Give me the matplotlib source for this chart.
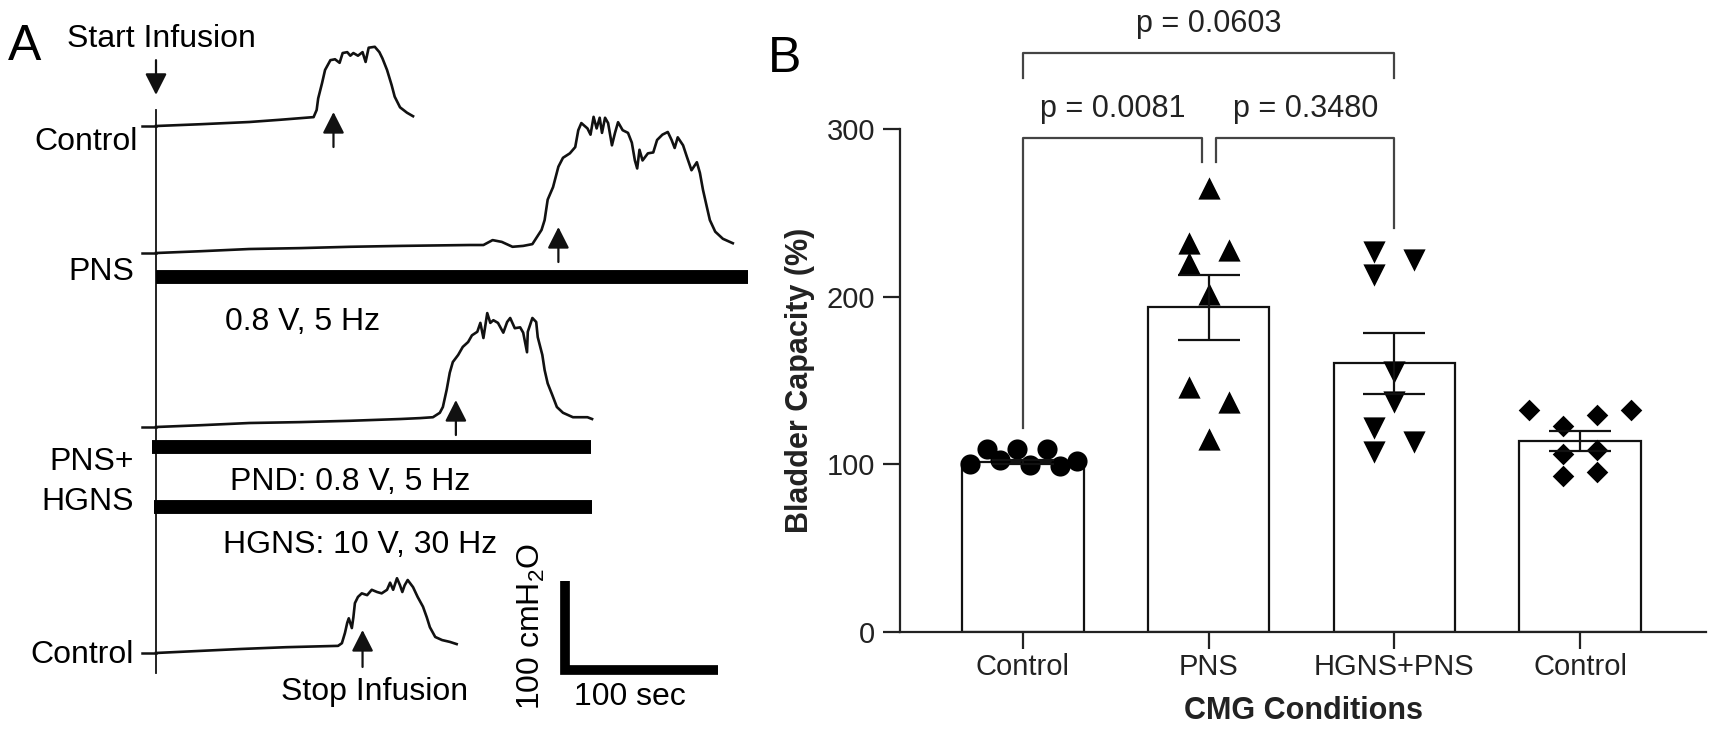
import matplotlib.pyplot as plt
import numpy as np

plt.rcParams['font.family'] = ['Liberation Sans', 'DejaVu Sans']
plt.rcParams['mathtext.fontset'] = 'custom'
plt.rcParams['mathtext.rm'] = 'Liberation Sans'

W, H = 1713, 737          # output size in pixels (dpi 100)
SEC_PX = 1.53             # panel A: pixels per second
CMH2O_PX = 0.89           # panel A: pixels per cmH2O
INK = '#111111'

# ---------------- Panel A data: CMG traces ----------------
# time (s) from start of infusion, pressure (cmH2O) above the trace baseline
ctrl1_t = [0, 29, 61, 81, 103, 105, 106, 108.5, 110.5, 114, 117, 120, 122, 125, 127, 129, 132, 135, 137, 139,
           143, 146, 148, 151, 154, 156, 159.5, 164, 168]
ctrl1_p = [0, 2, 4.5, 7, 10, 18, 31, 48, 63, 74, 75, 71, 82, 83, 79, 82, 79, 83, 72, 88,
           89, 83, 76, 63, 46, 33, 21, 15, 11]

pns_t = [0, 29, 61, 94, 127, 160, 205, 214, 220, 226, 233, 240, 246, 249, 252, 254, 256, 259.5, 263, 266,
         270.5, 274, 276, 278, 282, 284, 286, 288, 290, 291.5, 293.5, 295.5, 298, 300, 302, 305, 308.5, 311,
         313, 314.5, 316, 318, 321.5, 325, 327.5, 331, 334.5, 337, 339, 341, 344.5, 347, 350, 353.5, 355.5,
         357.5, 360, 362, 365.5, 370.5, 377]
pns_p = [0, 2, 4.5, 5.5, 7, 8, 9, 9, 14.5, 12.5, 7, 8, 10, 18, 26, 37, 60, 74, 97, 107,
         112, 119, 138, 146, 140, 133, 153, 140, 152, 135, 152, 146, 121, 135, 147, 138, 135, 124,
         104, 95, 116, 104, 112, 113, 127, 133, 136, 127, 118, 130, 121, 108, 93, 102, 90,
         71, 52, 37, 24, 16, 11]

combo_t = [0, 29, 61, 94, 127, 160, 172.5, 181, 185.5, 187.5, 190, 192, 194, 197.5, 200.5, 204, 206.5, 210,
           212, 214, 216.5, 218.5, 220.5, 223.5, 227, 229.5, 231.5, 234.5, 238, 240, 242.5, 243, 246,
           248.5, 249.5, 252.5, 254, 256, 259, 262, 266, 272.5, 282, 285]
combo_p = [0, 2, 4.5, 5.5, 7, 9, 10, 11, 16, 22.5, 42, 61, 73, 81, 90, 95.5, 103, 107,
           117, 100, 128, 117, 120, 117, 106, 118, 122.5, 111, 112, 106, 84, 107, 122.5,
           118, 101, 81, 64, 49, 36, 22.5, 16, 11, 11, 9]

ctrl2_t = [0, 55.5, 85, 119, 121.5, 123.5, 125, 126, 128, 129, 130, 132, 134.5, 138, 141, 144.5, 147.5,
           151, 153, 155, 157.5, 159.5, 161, 162.5, 164.5, 168, 171, 174.5, 177, 179, 182.5, 187, 192, 196.5]
ctrl2_p = [0, 4.5, 6.5, 8, 11, 22.5, 34, 39, 28, 40, 56, 63, 67, 65, 71, 68.5, 67,
           71, 79, 71, 84, 76, 68.5, 76, 82, 74, 63, 52, 40, 29, 18, 14.5, 12.5, 10]

stop_times = [116, 263, 196, 135]           # stop infusion (s)
pns_stim = [0, 387]                          # PNS on/off (s)
pnd_stim = [-2.5, 284]
hgns_stim = [-1.5, 285]

# ---------------- Panel B data ----------------
conditions = ['Control', 'PNS', 'HGNS+PNS', 'Control']
bar_means = [101.5, 193.7, 160.3, 114.2]
bar_sem = [1.2, 19.2, 18.0, 5.9]
ctrl_pts = [100.5, 109.5, 102.5, 109.5, 99.5, 109, 99, 102]
pns_pts = [265, 232, 228, 220, 202, 146, 137, 115]
hgns_pts = [227, 222, 213, 155, 137, 121.5, 113.5, 107.5]
ctrl2_pts = [132.5, 132.5, 129.5, 123, 106.5, 108.5, 93, 95.5]
p_values = ['p = 0.0081', 'p = 0.3480', 'p = 0.0603']


def fx(x):
    return x / W


def fy(y):
    return 1 - y / H


fig = plt.figure(figsize=(W / 100, H / 100), dpi=100)

# --- PANEL A ---
axA = fig.add_axes([0, 0, 770 / W, 1])
axA.set_xlim(-156 / SEC_PX, (770 - 156) / SEC_PX)
axA.set_ylim(0, H / CMH2O_PX)
axA.axis('off')

offsets = [686.5, 543.8, 348.3, 94.4]       # baseline of each trace (cmH2O units)
traces = [(ctrl1_t, ctrl1_p), (pns_t, pns_p), (combo_t, combo_p), (ctrl2_t, ctrl2_p)]
arrow_tip = [15.7, 29.2, 30.3, 25.8]
arrow_tail = [-23.6, -10.1, -9, -15.7]
arrow_style = '-|>,head_length=0.65,head_width=0.33'

for (t, p), off, ts, tip, tail in zip(traces, offsets, stop_times, arrow_tip, arrow_tail):
    axA.plot(t, np.array(p) + off, color=INK, lw=1.9, solid_joinstyle='round')
    axA.plot([-9, 0], [off, off], color=INK, lw=1.8)
    axA.annotate('', xy=(ts, off + tip), xytext=(ts, off + tail),
                 arrowprops=dict(arrowstyle=arrow_style, mutation_scale=20, lw=1.6,
                                 color=INK, shrinkA=0, shrinkB=0))

# time zero line and start arrow
axA.plot([0, 0], [71.9, 704.5], color=INK, lw=1.3)
axA.annotate('', xy=(0, offsets[0] + 35), xytext=(0, offsets[0] + 74),
             arrowprops=dict(arrowstyle=arrow_style, mutation_scale=20, lw=1.6,
                             color=INK, shrinkA=0, shrinkB=0))

# stimulation bars
axA.plot(pns_stim, [offsets[1] - 26.4] * 2, color='black', lw=10, solid_capstyle='butt')
axA.plot(pnd_stim, [offsets[2] - 23] * 2, color='black', lw=10, solid_capstyle='butt')
axA.plot(hgns_stim, [offsets[2] - 90.4] * 2, color='black', lw=10, solid_capstyle='butt')

# scale bar: 100 s, 100 cmH2O
sb_t, sb_y = 267, 75.5
axA.plot([sb_t, sb_t, sb_t + 100], [sb_y + 100, sb_y, sb_y], color='black', lw=7,
         solid_joinstyle='miter', solid_capstyle='butt')

fsA = 23
fig.text(fx(8), fy(60), 'A', fontsize=36, va='baseline')
fig.text(fx(67), fy(47), 'Start Infusion', fontsize=fsA, va='baseline')
fig.text(fx(138), fy(150), 'Control', fontsize=fsA, ha='right', va='baseline')
fig.text(fx(134), fy(280), 'PNS', fontsize=fsA, ha='right', va='baseline')
fig.text(fx(225), fy(330), '0.8 V, 5 Hz', fontsize=fsA, va='baseline')
fig.text(fx(134), fy(470), 'PNS+', fontsize=fsA, ha='right', va='baseline')
fig.text(fx(134), fy(510), 'HGNS', fontsize=fsA, ha='right', va='baseline')
fig.text(fx(230), fy(490), 'PND: 0.8 V, 5 Hz', fontsize=fsA, va='baseline')
fig.text(fx(223), fy(553), 'HGNS: 10 V, 30 Hz', fontsize=fsA, va='baseline')
fig.text(fx(134), fy(663), 'Control', fontsize=fsA, ha='right', va='baseline')
fig.text(fx(281), fy(700), 'Stop Infusion', fontsize=fsA, va='baseline')
fig.text(fx(547), fy(710), '100 cmH$_2$O', fontsize=fsA, rotation=90, ha='right', va='bottom')
fig.text(fx(574), fy(705), '100 sec', fontsize=fsA, va='baseline')

# --- PANEL B ---
axB = fig.add_axes([900 / W, 1 - 632 / H, 806 / W, (632 - 129.3) / H])
x = np.arange(len(conditions))

axB.bar(x, bar_means, width=0.653, color='white', edgecolor=INK, linewidth=1.6, zorder=1)

groups = [
    (ctrl_pts, [-0.285, -0.194, -0.124, -0.032, 0.038, 0.129, 0.2, 0.29], 'o', 210),
    (pns_pts, [0, -0.108, 0.111, -0.108, 0, -0.108, 0.111, 0], '^', 256),
    (hgns_pts, [-0.108, 0.108, -0.108, 0, 0, -0.108, 0.108, -0.108], 'v', 256),
    (ctrl2_pts, [-0.276, 0.275, 0.092, -0.094, -0.094, 0.092, -0.094, 0.092], 'D', 121),
]
for i, (pts, jit, mk, s) in enumerate(groups):
    axB.scatter(x[i] + np.array(jit), pts, marker=mk, s=s, color='black', linewidths=0, zorder=3)

axB.errorbar(x, bar_means, yerr=bar_sem, fmt='none', ecolor=INK, elinewidth=1.6,
             capsize=22, capthick=1.6, zorder=4)

axB.set_xlim(-0.662, 3.678)
axB.set_ylim(0, 300)
for side in ['top', 'right']:
    axB.spines[side].set_visible(False)
for side in ['left', 'bottom']:
    axB.spines[side].set_linewidth(1.6)
    axB.spines[side].set_color('#222222')

axB.set_yticks([0, 100, 200, 300])
axB.set_xticks(x, conditions)
axB.tick_params(axis='both', length=12, width=1.6, color='#222222', labelsize=21, labelcolor='#222222')
axB.tick_params(axis='y', pad=6)
axB.tick_params(axis='x', pad=3)

# significance brackets
bcol = '#444444'
axB.plot([0, 0, 0.962, 0.962], [121.7, 294.7, 294.7, 280.6], color=bcol, lw=1.6, clip_on=False)
axB.plot([1.038, 1.038, 2, 2], [280.6, 294.7, 294.7, 240.9], color=bcol, lw=1.6, clip_on=False)
axB.plot([0, 0, 2, 2], [330.9, 345.5, 345.5, 330.9], color=bcol, lw=1.6, clip_on=False)
axB.text(0.484, 312, p_values[0], ha='center', va='center', fontsize=22, color='#222222')
axB.text(1.524, 312, p_values[1], ha='center', va='center', fontsize=22, color='#222222')
axB.text(1.0, 363, p_values[2], ha='center', va='center', fontsize=22, color='#222222')

axB.set_ylabel('Bladder Capacity (%)', fontsize=22, fontweight='bold', color='#222222')
axB.yaxis.set_label_coords(-0.105, 0.5)
axB.set_xlabel('CMG Conditions', fontsize=22, fontweight='bold', color='#222222')
axB.xaxis.set_label_coords(0.5, -0.127)

fig.text(fx(768), fy(72), 'B', fontsize=36, va='baseline')

fig.savefig('out.png', dpi=100)
